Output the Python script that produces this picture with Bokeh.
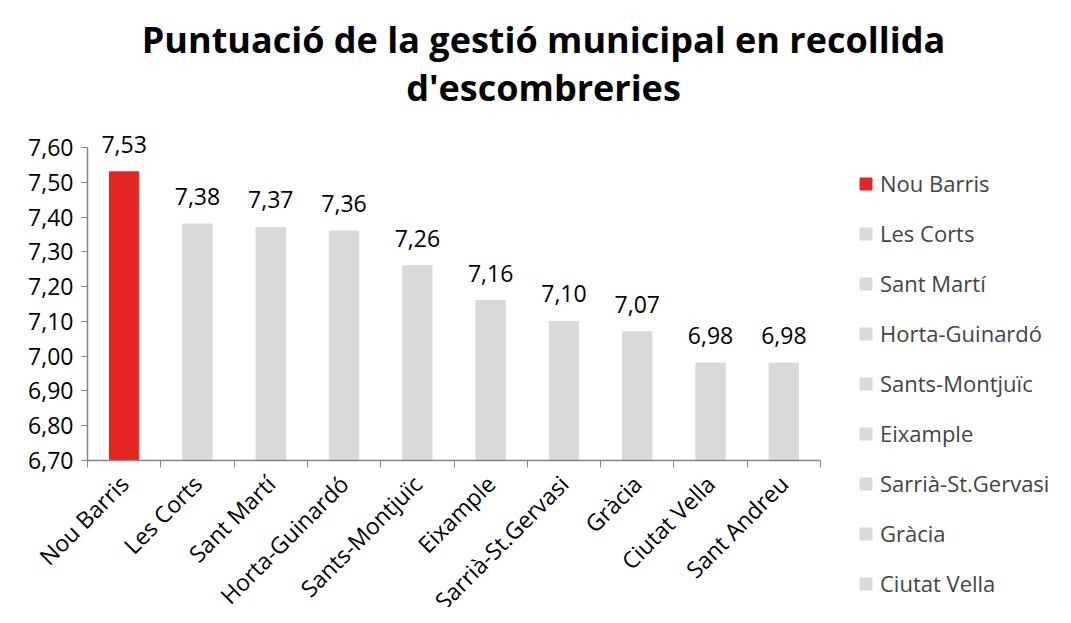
import math
from bokeh.plotting import figure
from bokeh.models import (ColumnDataSource, Range1d, FixedTicker, CustomJSTickFormatter,
                          LabelSet, Legend, LegendItem, Label)
from bokeh.core.properties import value
from bokeh.embed import file_html
from bokeh.resources import INLINE

# ---- data ----
districts = ["Nou Barris", "Les Corts", "Sant Martí", "Horta-Guinardó", "Sants-Montjuïc",
             "Eixample", "Sarrià-St.Gervasi", "Gràcia", "Ciutat Vella", "Sant Andreu"]
scores = [7.53, 7.38, 7.37, 7.36, 7.26, 7.16, 7.10, 7.07, 6.98, 6.98]
y_ticks = [6.70, 6.80, 6.90, 7.00, 7.10, 7.20, 7.30, 7.40, 7.50, 7.60]
title_lines = ["Puntuació de la gestió municipal en recollida", "d'escombreries"]
highlight = "Nou Barris"
legend_shown = 9  # entries visible in the legend

RED = "#E42521"
GRAY = "#D9D9D9"
AXIS = "#868686"
FONT = "Open Sans"

# ---- layout (pixels) ----
W, H = 1055, 607
AX_L, AX_R = 87, 820      # x-axis extent
AX_T, AX_B = 147, 460     # y-axis extent (top tick, baseline)

n = len(districts)
xs = [i + 0.5 for i in range(n)]
colors = [RED if d == highlight else GRAY for d in districts]
texts = [f"{v:.2f}".replace(".", ",") for v in scores]
src = ColumnDataSource(dict(x=xs, top=scores, color=colors, name=districts, text=texts))

# ranges chosen so the whole canvas is the plotting frame
xppu = (AX_R - AX_L) / n
yppu = (AX_B - AX_T) / (y_ticks[-1] - y_ticks[0])
x_range = Range1d(-AX_L / xppu, n + (W - AX_R) / xppu)
y_range = Range1d(y_ticks[0] - (H - AX_B) / yppu, y_ticks[-1] + AX_T / yppu)

p = figure(width=W, height=H, output_backend="svg", toolbar_location=None,
           x_range=x_range, y_range=y_range,
           min_border_left=0, min_border_right=0, min_border_top=0, min_border_bottom=0)

r = p.vbar(x="x", top="top", bottom=y_ticks[0], width=0.4, color="color", source=src)

p.add_layout(LabelSet(x="x", y="top", text="text", source=src, y_offset=19,
                      text_align="center", text_baseline="bottom",
                      text_font=value(FONT), text_font_size="23px", text_color="#000000"))

p.grid.visible = False
p.outline_line_color = None

# x axis pinned at the baseline
p.xaxis.fixed_location = y_ticks[0]
p.xaxis.bounds = (0, n)
p.xaxis.ticker = FixedTicker(ticks=xs, minor_ticks=list(range(n + 1)))
p.xaxis.formatter = CustomJSTickFormatter(args=dict(labels=districts),
                                          code="return labels[Math.floor(tick)];")
p.xaxis.major_label_orientation = math.pi / 4
p.xaxis.major_tick_line_color = None
p.xaxis.minor_tick_line_color = AXIS
p.xaxis.minor_tick_out = 7
p.xaxis.minor_tick_in = 0
p.xaxis.axis_line_color = AXIS
p.xaxis.axis_line_width = 1.5

# y axis pinned at the first category boundary
p.yaxis.fixed_location = 0
p.yaxis.bounds = (y_ticks[0], y_ticks[-1])
p.yaxis.ticker = FixedTicker(ticks=y_ticks, minor_ticks=[])
p.yaxis.formatter = CustomJSTickFormatter(code="return tick.toFixed(2).replace('.', ',');")
p.yaxis.major_tick_line_color = AXIS
p.yaxis.major_tick_out = 6
p.yaxis.major_tick_in = 0
p.yaxis.axis_line_color = AXIS
p.yaxis.axis_line_width = 1.5

for ax in (p.xaxis, p.yaxis):
    ax.major_label_text_font = FONT
    ax.major_label_text_font_size = "23px"
    ax.major_label_text_color = "#000000"
p.yaxis.major_label_standoff = 8
p.xaxis.major_label_standoff = 12

# title
for txt, ypos in zip(title_lines, (H - 39, H - 87)):
    p.add_layout(Label(x=543, y=ypos, x_units="screen", y_units="screen", text=txt,
                       text_align="center", text_baseline="middle",
                       text_font=FONT, text_font_size="36px",
                       text_font_style="bold", text_color="#000000"))

# legend
items = [LegendItem(label=districts[i], renderers=[r], index=i) for i in range(legend_shown)]
legend = Legend(items=items, location=(858, 9), glyph_width=15, glyph_height=15,
                label_height=20, spacing=20, padding=0, margin=0, label_standoff=7,
                label_text_font=FONT, label_text_font_size="22px",
                border_line_color=None, background_fill_alpha=0)
p.add_layout(legend, "center")

open("out.html", "w").write(file_html(p, INLINE))
